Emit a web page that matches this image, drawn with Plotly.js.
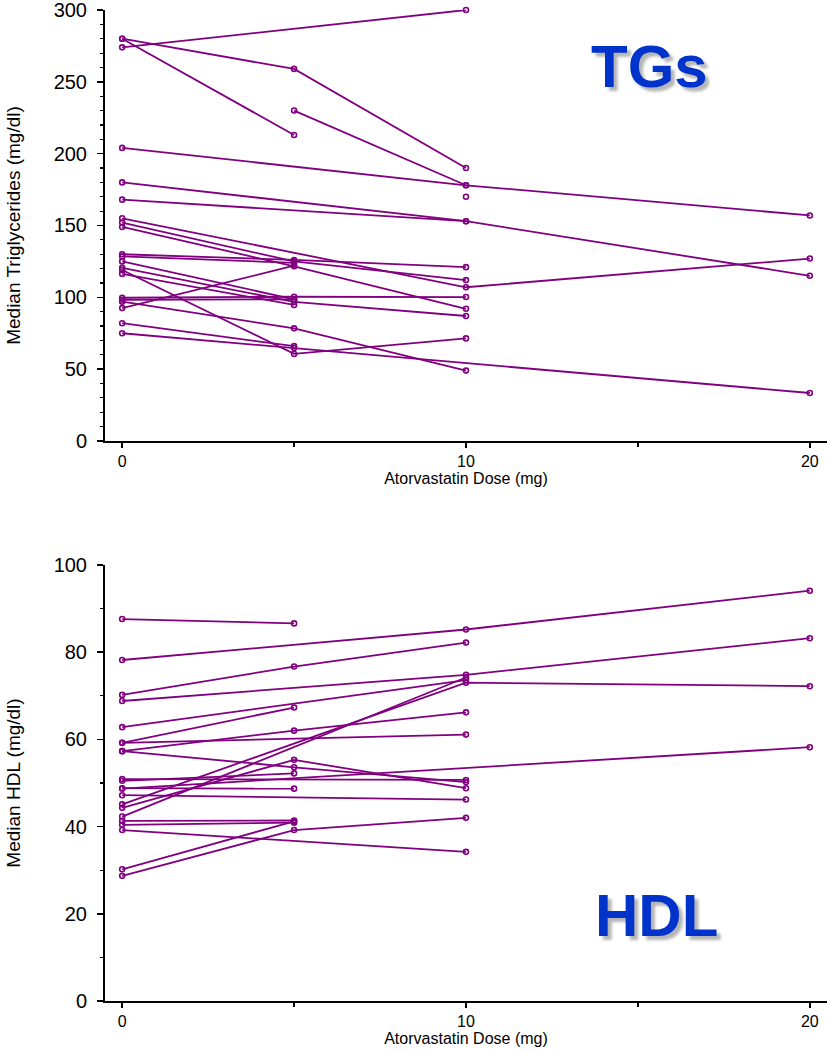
<!DOCTYPE html>
<html>
<head>
<meta charset="utf-8">
<script src="https://cdn.plot.ly/plotly-3.0.1.min.js"></script>
<style>
  html, body { margin: 0; padding: 0; background: #fff; }
  #chart { width: 827px; height: 1050px; }
</style>
</head>
<body>
<div id="chart"></div>
<script>
// Atorvastatin dose levels (mg); null = no measurement at that dose
const doses = [0, 5, 10, 20];

// Median triglycerides (mg/dl), one row per subject
const tgSeries = [
  [280, 259, 190, null],
  [280, 213, null, null],
  [274, null, 300, null],
  [null, 230, 178, null],
  [204, null, 178, 157],
  [null, null, 170, null],
  [180, null, 153, 115],
  [168, null, 153, null],
  [155, null, 107, 127],
  [152, 125, 112, null],
  [149, 121.6, 92, null],
  [130, 126, 121, null],
  [128.5, 124, null, null],
  [92.5, 122, null, null],
  [125, 98.6, null, null],
  [120.5, 96.8, 87, null],
  [116.3, 94.7, null, null],
  [119, 60.6, 71.4, null],
  [99.7, 100.4, 100.2, null],
  [98.3, 98.6, null, null],
  [97, 78.4, 49, null],
  [82, 66, null, null],
  [75, 64.7, null, 33.4],
];

// Median HDL (mg/dl), one row per subject
const hdlSeries = [
  [87.6, 86.6, null, null],
  [78.2, null, 85.2, 94.1],
  [70.2, 76.7, 82.2, null],
  [68.8, null, 74.8, 83.2],
  [62.8, null, 73.6, null],
  [59.2, 67.3, null, null],
  [57.3, 62, 66.2, null],
  [59.2, null, 61.1, null],
  [57.3, 53.6, 50.2, null],
  [44.3, 55.3, 48.8, null],
  [50.9, null, 50.7, null],
  [50.5, 52.2, null, null],
  [48.8, 48.7, null, null],
  [48.7, null, null, 58.2],
  [47.2, null, 46.2, null],
  [45.1, null, 73, 72.2],
  [42.3, null, 74.2, null],
  [41.3, 41.4, null, null],
  [40.4, 40.9, null, null],
  [39.2, null, 34.2, null],
  [30.2, 41.2, null, null],
  [28.7, 39.2, 42, null],
];

const xTicks = [0, 10, 20];
const xMinorTicks = [5, 15];
const tgTicks = [0, 50, 100, 150, 200, 250, 300];
const hdlTicks = [0, 20, 40, 60, 80, 100];

const PURPLE = "#800080";
const FONT = "Liberation Sans, Arial, sans-serif";

/* ---------- Helpers ---------- */

function subjectTraces(series, xaxis, yaxis) {
  return series.map((values) => ({
    x: doses,
    y: values,
    xaxis: xaxis,
    yaxis: yaxis,
    type: "scatter",
    mode: "lines+markers",
    connectgaps: true,
    cliponaxis: false,
    showlegend: false,
    hoverinfo: "skip",
    line: { color: PURPLE, width: 1.8 },
    marker: {
      symbol: "circle-open",
      size: 5,
      color: PURPLE,
      line: { color: PURPLE, width: 1.6 },
    },
  }));
}

function doseAxis(anchor) {
  return {
    anchor: anchor,
    domain: [0, 1],
    range: [-0.5, 20.5],
    tickmode: "array",
    tickvals: xTicks,
    ticks: "outside",
    ticklen: 5,
    tickwidth: 1.5,
    tickcolor: "#000",
    tickfont: { family: FONT, size: 16, color: "#000" },
    minor: {
      tickmode: "array",
      tickvals: xMinorTicks,
      ticks: "outside",
      ticklen: 4,
      tickwidth: 1.5,
      tickcolor: "#000",
      showgrid: false,
    },
    showline: true,
    linecolor: "#000",
    linewidth: 2,
    showgrid: false,
    zeroline: false,
    title: {
      text: "Atorvastatin Dose (mg)",
      font: { family: FONT, size: 16, color: "#000" },
      standoff: 3,
    },
  };
}

function valueAxis(anchor, domain, range, ticks, titleText) {
  return {
    anchor: anchor,
    domain: domain,
    range: range,
    tickmode: "array",
    tickvals: ticks,
    ticks: "outside",
    ticklen: 6,
    tickwidth: 1.5,
    tickcolor: "#000",
    ticklabelstandoff: 6,
    ticklabeloverflow: "allow",
    tickfont: { family: FONT, size: 20, color: "#000" },
    minor: {
      dtick: 10,
      ticks: "outside",
      ticklen: 3,
      tickwidth: 1.2,
      tickcolor: "#000",
      showgrid: false,
    },
    showline: true,
    linecolor: "#000",
    linewidth: 2,
    showgrid: false,
    zeroline: false,
    title: {
      text: titleText,
      font: { family: FONT, size: 19, color: "#000" },
      standoff: 28,
    },
  };
}

function bigLabel(text, x, y, xref, yref) {
  return {
    text: text,
    x: x,
    y: y,
    xref: xref,
    yref: yref,
    showarrow: false,
    font: {
      family: FONT,
      size: 60,
      weight: 700,
      color: "#0033cc",
      shadow: "4px 4px 3px #b5b5b5",
    },
  };
}

/* ---------- Chart ---------- */

const traces = [
  ...subjectTraces(tgSeries, "x", "y"),
  ...subjectTraces(hdlSeries, "x2", "y2"),
];

const layout = {
  width: 827,
  height: 1050,
  margin: { l: 105, r: 0, t: 10, b: 49 },
  paper_bgcolor: "#fff",
  plot_bgcolor: "#fff",
  font: { family: FONT, color: "#000" },
  xaxis: doseAxis("y"),
  yaxis: valueAxis("x", [0.5651, 1], [0, 300], tgTicks, "Median Triglycerides (mg/dl)"),
  xaxis2: doseAxis("y2"),
  yaxis2: valueAxis("x2", [0, 0.44], [0, 100], hdlTicks, "Median HDL (mg/dl)"),
  annotations: [
    bigLabel("TGs", 15.35, 261, "x", "y"),
    bigLabel("HDL", 15.55, 19.5, "x2", "y2"),
  ],
};

Plotly.newPlot("chart", traces, layout, { displayModeBar: false, staticPlot: true });
</script>
</body>
</html>
